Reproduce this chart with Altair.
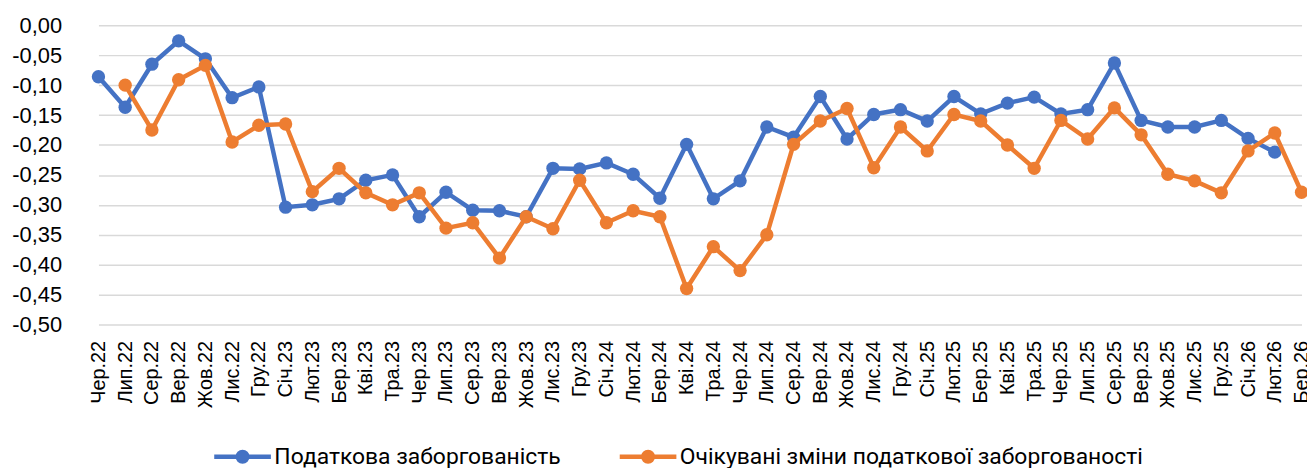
import altair as alt
import pandas as pd

months = ["Чер.22", "Лип.22", "Сер.22", "Вер.22", "Жов.22", "Лис.22", "Гру.22",
          "Січ.23", "Лют.23", "Бер.23", "Кві.23", "Тра.23", "Чер.23", "Лип.23",
          "Сер.23", "Вер.23", "Жов.23", "Лис.23", "Гру.23", "Січ.24", "Лют.24",
          "Бер.24", "Кві.24", "Тра.24", "Чер.24", "Лип.24", "Сер.24", "Вер.24",
          "Жов.24", "Лис.24", "Гру.24", "Січ.25", "Лют.25", "Бер.25", "Кві.25",
          "Тра.25", "Чер.25", "Лип.25", "Сер.25", "Вер.25", "Жов.25", "Лис.25",
          "Гру.25", "Січ.26", "Лют.26", "Бер.26"]

debt = [-0.086, -0.137, -0.065, -0.026, -0.056, -0.121, -0.103,
        -0.304, -0.300, -0.290, -0.259, -0.250, -0.320, -0.279,
        -0.309, -0.310, -0.320, -0.239, -0.240, -0.230, -0.249,
        -0.289, -0.199, -0.290, -0.260, -0.170, -0.187, -0.119,
        -0.190, -0.149, -0.141, -0.160, -0.119, -0.148, -0.130,
        -0.120, -0.148, -0.141, -0.063, -0.159, -0.170, -0.170,
        -0.159, -0.189, -0.212, None]

expected = [None, -0.100, -0.175, -0.091, -0.067, -0.195, -0.167,
            -0.165, -0.278, -0.239, -0.280, -0.300, -0.280, -0.339,
            -0.330, -0.389, -0.320, -0.340, -0.259, -0.330, -0.310,
            -0.320, -0.440, -0.370, -0.410, -0.350, -0.199, -0.160,
            -0.139, -0.238, -0.170, -0.210, -0.149, -0.160, -0.200,
            -0.239, -0.159, -0.190, -0.138, -0.183, -0.249, -0.260,
            -0.280, -0.210, -0.180, -0.279]

series_names = ["Податкова заборгованість", "Очікувані зміни податкової заборгованості"]
series_colors = ["#4472C4", "#ED7D31"]
y_ticks = [0.0, -0.05, -0.10, -0.15, -0.20, -0.25, -0.30, -0.35, -0.40, -0.45, -0.50]

rows = []
for name, vals in zip(series_names, [debt, expected]):
    for m, v in zip(months, vals):
        if v is not None:
            rows.append({"month": m, "value": v, "series": name})
df = pd.DataFrame(rows)

W = 1229
H = 301
step = 26.9
x_range = [13, 13 + step * (len(months) - 1)]

x_enc = alt.X("month:N", sort=months,
              scale=alt.Scale(type="point", domain=months, range=x_range, padding=0),
              axis=alt.Axis(title=None, labelAngle=270, labelFontSize=20,
                            labelFont="Liberation Sans", labelColor="#000000",
                            labelPadding=16, ticks=False, domain=False, grid=False,
                            labelOverlap=False))
y_enc = alt.Y("value:Q",
              scale=alt.Scale(domain=[-0.5, 0.0], nice=False, zero=False),
              axis=alt.Axis(title=None, values=y_ticks, labelFontSize=22,
                            labelFont="Liberation Sans", labelColor="#000000",
                            labelExpr="replace(replace(format(datum.value, '.2f'), '.', ','), '\u2212', '-')",
                            labelPadding=24, ticks=False, domain=False,
                            gridColor="#D9D9D9", gridWidth=1.5))

legend_symbol = ("M-1,0L1,0"
                 "M0.17,0A0.17,0.17,0,1,1,-0.17,0A0.17,0.17,0,1,1,0.17,0"
                 "M0.08,0A0.08,0.08,0,1,1,-0.08,0A0.08,0.08,0,1,1,0.08,0")

color_enc = alt.Color("series:N",
                      scale=alt.Scale(domain=series_names, range=series_colors),
                      legend=alt.Legend(title=None, orient="none", direction="horizontal",
                                        legendX=127, legendY=403, padding=0,
                                        symbolType=legend_symbol, symbolSize=3249,
                                        symbolStrokeWidth=4.5,
                                        labelFont="Roboto", labelFontSize=23,
                                        labelLimit=800,
                                        labelColor="#000000", columnPadding=49,
                                        labelOffset=1))

layers = []
for name in series_names:
    base = alt.Chart(df).transform_filter(alt.datum.series == name)
    layers.append(base.mark_line(strokeWidth=4.5).encode(x=x_enc, y=y_enc, color=color_enc))
    layers.append(base.mark_circle(size=180, opacity=1).encode(x=x_enc, y=y_enc, color=color_enc))

chart = alt.layer(*layers).properties(
    width=W, height=H,
    autosize=alt.AutoSizeParams(type="none"),
    padding={"left": 78, "top": 16, "right": 0, "bottom": 143},
).configure_view(stroke=None)

chart.save("out.html", embed_options={"renderer": "svg", "actions": False})
